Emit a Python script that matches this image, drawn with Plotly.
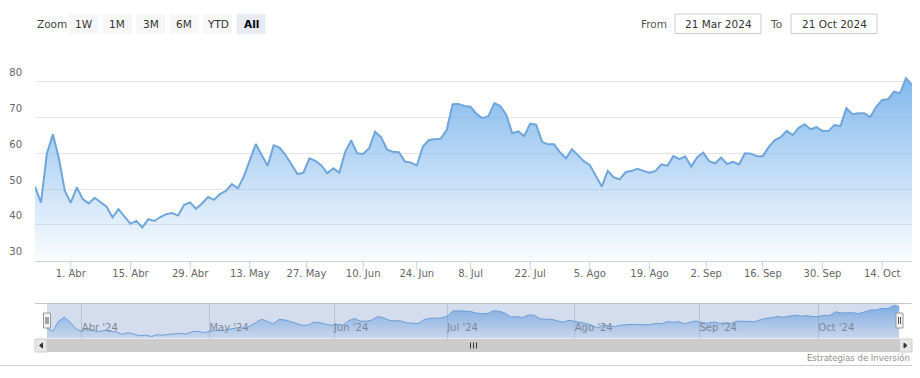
import pandas as pd
import plotly.graph_objects as go

# ---------------- data ----------------
start_date = "2024-03-21"
end_date = "2024-10-21"
market_holidays = ["2024-03-29", "2024-05-27", "2024-06-19", "2024-07-04", "2024-09-02"]

values = [
    50.7, 46.2, 60.0, 65.3, 58.6, 49.5, 46.2, 50.5, 47.2, 46.0, 47.6, 46.3, 45.1, 42.1, 44.4,
    42.3, 40.3, 41.1, 39.3, 41.6, 41.1, 42.2, 43.0, 43.3, 42.6, 45.6, 46.3, 44.5, 46.0, 47.8,
    47.0, 48.6, 49.5, 51.4, 50.2, 53.5, 58.1, 62.6, 59.5, 56.5, 62.2, 61.6, 59.5, 56.7, 54.2,
    54.6, 58.6, 57.9, 56.6, 54.4, 55.8, 54.6, 60.4, 63.6, 60.0, 59.8, 61.4, 66.0, 64.5,
    61.1, 60.4, 60.3, 57.7, 57.4, 56.6, 61.8, 63.7, 63.9, 64.1, 66.5, 73.7, 73.8, 73.2, 73.0,
    71.0, 69.8, 70.4, 74.0, 73.2, 70.7, 65.6, 66.1, 64.8, 68.3, 68.0, 63.2, 62.5, 62.5, 60.3,
    58.6, 61.1, 59.5, 57.8, 56.7, 53.9, 50.7, 55.1, 53.3, 52.7, 54.7, 55.1, 55.7, 55.1, 54.6,
    55.1, 56.9, 56.5, 59.2, 58.4, 59.1, 56.3, 58.9, 60.2, 57.8, 57.2, 58.8, 57.0, 57.6, 56.9,
    60.0, 59.9, 59.2, 59.2, 61.8, 63.7, 64.5, 66.3, 65.1, 67.1, 68.1, 66.7, 67.3, 66.2, 66.2,
    67.9, 67.6, 72.6, 70.9, 71.2, 71.2, 70.1, 73.0, 74.9, 75.1, 77.2, 76.8, 81.0, 79.1,
]

dates = [d.strftime("%Y-%m-%d") for d in pd.bdate_range(start_date, end_date)
         if d.strftime("%Y-%m-%d") not in market_holidays]
assert len(dates) == len(values), (len(dates), len(values))

tick_dates = ["2024-04-01", "2024-04-15", "2024-04-29", "2024-05-13", "2024-05-27",
              "2024-06-10", "2024-06-24", "2024-07-08", "2024-07-22", "2024-08-05",
              "2024-08-19", "2024-09-02", "2024-09-16", "2024-09-30", "2024-10-14"]
tick_labels = ["1. Abr", "15. Abr", "29. Abr", "13. May", "27. May", "10. Jun", "24. Jun",
               "8. Jul", "22. Jul", "5. Ago", "19. Ago", "2. Sep", "16. Sep", "30. Sep", "14. Oct"]

y_ticks = [30, 40, 50, 60, 70, 80, 90]
y_labels = ["30", "40", "50", "60", "70", "80", ""]

nav_dates = ["2024-04-01", "2024-05-01", "2024-06-01", "2024-07-01",
             "2024-08-01", "2024-09-01", "2024-10-01"]
nav_labels = ["Abr '24", "May '24", "Jun '24", "Jul '24", "Ago '24", "Sep '24", "Oct '24"]

buttons = ["1W", "1M", "3M", "6M", "YTD", "All"]
active_button = "All"
from_text = "21 Mar 2024"
to_text = "21 Oct 2024"
credits = "Estrategias de Inversión"

# ---------------- helpers ----------------
W, H = 920, 378
L, R = 35, 8
PW = W - L - R
FONT = "DejaVu Sans, Verdana, sans-serif"
trading = set(dates)


def on_axis(day):
    """A tick date that falls in a closed day is placed half-way after the previous session,
    as an ordinal (trading-day) axis does."""
    if day in trading:
        return day
    d = pd.Timestamp(day)
    while d.strftime("%Y-%m-%d") not in trading:
        d -= pd.Timedelta(days=1)
    return (d + pd.Timedelta(hours=12)).strftime("%Y-%m-%d %H:%M")


def px(x):
    return (x - L) / PW


def py(y):
    return 1 - y / H


breaks = [dict(bounds=["sat", "mon"]), dict(values=market_holidays)]
vmax = max(values)
main_ticks = [on_axis(d) for d in tick_dates]
nav_ticks = [on_axis(d) for d in nav_dates]

fig = go.Figure()
fig.add_trace(go.Scatter(
    x=dates, y=values, mode="lines", xaxis="x", yaxis="y",
    line=dict(color="#6fa6dc", width=2),
    fill="tozeroy",
    fillgradient=dict(type="vertical", start=30, stop=vmax,
                      colorscale=[[0, "rgba(124,181,236,0.03)"], [1, "rgba(124,181,236,0.95)"]]),
    hoverinfo="x+y", showlegend=False,
))
fig.add_trace(go.Scatter(
    x=dates, y=values, mode="lines", xaxis="x2", yaxis="y2",
    line=dict(color="#6fa6dc", width=1),
    fill="tozeroy",
    fillgradient=dict(type="vertical", start=36, stop=vmax,
                      colorscale=[[0, "rgba(124,181,236,0.1)"], [1, "rgba(124,181,236,0.9)"]]),
    hoverinfo="skip", showlegend=False,
))

shapes = []
annotations = []

# x-axis tick marks (10 px long, below the axis line)
for t in main_ticks:
    shapes.append(dict(type="line", xref="x", yref="paper", x0=t, x1=t,
                       y0=py(261), y1=py(270.5), line=dict(color="#ccd6eb", width=1)))

# range selector
annotations.append(dict(text="Zoom", x=px(35), y=py(23.5), xref="paper", yref="paper",
                        xanchor="left", yanchor="middle", showarrow=False,
                        font=dict(family=FONT, size=10.5, color="#444")))
for i, b in enumerate(buttons):
    x0 = 69.5 + i * 33.4
    x1 = x0 + 29
    active = b == active_button
    shapes.append(dict(type="rect", xref="paper", yref="paper", x0=px(x0), x1=px(x1),
                       y0=py(34), y1=py(14), fillcolor="#e6ebf5" if active else "#f7f7f7",
                       line=dict(width=0), layer="above"))
    annotations.append(dict(text=f"<b>{b}</b>" if active else b, x=px((x0 + x1) / 2), y=py(23.5),
                            xref="paper", yref="paper", xanchor="center", yanchor="middle",
                            showarrow=False,
                            font=dict(family=FONT, size=10.5, color="#000" if active else "#333")))

# from / to inputs
annotations.append(dict(text="From", x=px(669), y=py(23.5), xref="paper", yref="paper",
                        xanchor="right", yanchor="middle", showarrow=False,
                        font=dict(family=FONT, size=10.5, color="#555")))
annotations.append(dict(text="To", x=px(784), y=py(23.5), xref="paper", yref="paper",
                        xanchor="right", yanchor="middle", showarrow=False,
                        font=dict(family=FONT, size=10.5, color="#555")))
for (x0, x1, t) in [(675, 761, from_text), (791, 877, to_text)]:
    shapes.append(dict(type="rect", xref="paper", yref="paper", x0=px(x0), x1=px(x1),
                       y0=py(33.5), y1=py(14), fillcolor="white",
                       line=dict(color="#cccccc", width=1), layer="above"))
    annotations.append(dict(text=t, x=px((x0 + x1) / 2), y=py(23.5), xref="paper", yref="paper",
                            xanchor="center", yanchor="middle", showarrow=False,
                            font=dict(family=FONT, size=10.5, color="#333")))

# navigator outline + mask
shapes.append(dict(type="line", xref="paper", yref="paper", x0=px(35), x1=px(912),
                   y0=py(303.5), y1=py(303.5), line=dict(color="#c8c8c8", width=1), layer="above"))
shapes.append(dict(type="rect", xref="paper", yref="paper", x0=px(47), x1=px(899),
                   y0=py(338.5), y1=py(303.5), fillcolor="rgba(102,133,194,0.28)",
                   line=dict(width=0), layer="above"))
# handles
for hx in (47, 899.5):
    shapes.append(dict(type="rect", xref="paper", yref="paper", x0=px(hx - 3.5), x1=px(hx + 3.5),
                       y0=py(328), y1=py(313), fillcolor="#f2f2f2",
                       line=dict(color="#999999", width=1), layer="above"))
    for dx in (-1, 1):
        shapes.append(dict(type="line", xref="paper", yref="paper", x0=px(hx + dx), x1=px(hx + dx),
                           y0=py(324), y1=py(317), line=dict(color="#555", width=1), layer="above"))

# scrollbar
shapes.append(dict(type="rect", xref="paper", yref="paper", x0=px(35), x1=px(912),
                   y0=py(352), y1=py(339), fillcolor="#f2f2f2", line=dict(width=0), layer="above"))
shapes.append(dict(type="rect", xref="paper", yref="paper", x0=px(47), x1=px(899.5),
                   y0=py(352), y1=py(339), fillcolor="#cccccc", line=dict(width=0), layer="above"))
for (x0, x1) in [(35, 47), (899.5, 912)]:
    shapes.append(dict(type="rect", xref="paper", yref="paper", x0=px(x0), x1=px(x1),
                       y0=py(352), y1=py(339), fillcolor="#e6e6e6",
                       line=dict(color="#cccccc", width=1), layer="above"))
la = f"M {px(42.5)} {py(343)} L {px(39.5)} {py(345.5)} L {px(42.5)} {py(348)} Z"
ra = f"M {px(904)} {py(343)} L {px(907)} {py(345.5)} L {px(904)} {py(348)} Z"
for p in (la, ra):
    shapes.append(dict(type="path", xref="paper", yref="paper", path=p, fillcolor="#333",
                       line=dict(color="#333", width=1), layer="above"))
for gx in (470.5, 473.5, 476.5):
    shapes.append(dict(type="line", xref="paper", yref="paper", x0=px(gx), x1=px(gx),
                       y0=py(342.5), y1=py(348.5), line=dict(color="#333", width=1), layer="above"))

# bottom separator + credits
shapes.append(dict(type="line", xref="paper", yref="paper", x0=px(0), x1=px(912),
                   y0=py(365.5), y1=py(365.5), line=dict(color="#cccccc", width=1), layer="above"))
annotations.append(dict(text=credits, x=px(912), y=py(358), xref="paper", yref="paper",
                        xanchor="right", yanchor="middle", showarrow=False,
                        font=dict(family=FONT, size=8.5, color="#909090")))

fig.update_layout(
    width=W, height=H,
    margin=dict(l=L, r=R, t=0, b=0, autoexpand=False),
    paper_bgcolor="white", plot_bgcolor="white",
    font=dict(family=FONT, size=10, color="#666"),
    showlegend=False,
    xaxis=dict(
        domain=[0, 1], anchor="y", type="date",
        range=[dates[0], dates[-1]], rangebreaks=breaks,
        tickmode="array", tickvals=main_ticks, ticktext=tick_labels,
        ticks="outside", ticklen=3, tickcolor="#ccd6eb", tickwidth=1,
        showline=True, linecolor="#ccd6eb", linewidth=1,
        showgrid=False, zeroline=False,
        tickfont=dict(family=FONT, size=10, color="#666"),
    ),
    yaxis=dict(
        domain=[py(260.7), py(45.9)], anchor="x",
        range=[30, 90], tickmode="array", tickvals=y_ticks, ticktext=y_labels,
        showgrid=True, gridcolor="#e6e6e6", gridwidth=1, zeroline=False,
        showline=False, ticks="", ticklabelposition="outside top", ticklabelstandoff=12,
        ticklabelshift=-2,
        tickfont=dict(family=FONT, size=10, color="#666"),
    ),
    xaxis2=dict(
        domain=[px(47), px(899.5)], anchor="y2", type="date",
        range=[dates[0], dates[-1]], rangebreaks=breaks,
        tickmode="array", tickvals=nav_ticks, ticktext=nav_labels,
        ticklabelposition="inside right", ticks="",
        showgrid=True, gridcolor="#d8d8d8", gridwidth=1,
        showline=False, zeroline=False,
        tickfont=dict(family=FONT, size=10, color="#888"),
    ),
    yaxis2=dict(
        domain=[py(338.5), py(303.5)], anchor="x2",
        range=[36.6, 83.7], visible=False,
    ),
    shapes=shapes,
    annotations=annotations,
)

fig.write_html("out.html", config={"displayModeBar": False},
               post_script="document.body.style.margin='0';")
